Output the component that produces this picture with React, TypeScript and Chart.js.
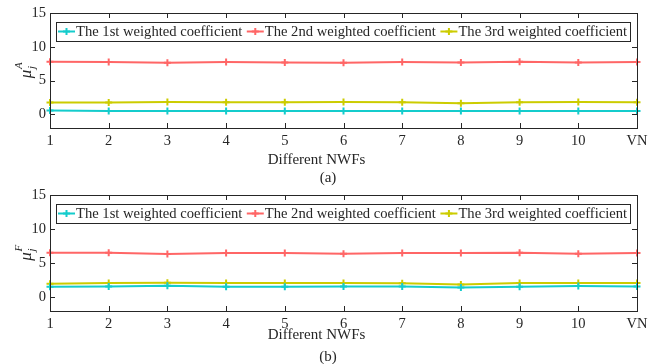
import { useEffect, useRef } from 'react';
import { Chart, registerables } from 'chart.js';

Chart.register(...registerables);

const categories = ['1', '2', '3', '4', '5', '6', '7', '8', '9', '10', 'VN'];
const seriesNames = [
  'The 1st weighted coefficient',
  'The 2nd weighted coefficient',
  'The 3rd weighted coefficient',
];
const yTicks = [0, 5, 10, 15];

// Panel (a): mu_j^A
const firstA = [0.58, 0.53, 0.53, 0.53, 0.53, 0.53, 0.53, 0.53, 0.53, 0.53, 0.53];
const secondA = [7.79, 7.74, 7.64, 7.74, 7.69, 7.64, 7.74, 7.69, 7.8, 7.69, 7.74];
const thirdA = [1.76, 1.76, 1.86, 1.81, 1.81, 1.86, 1.81, 1.67, 1.81, 1.86, 1.81];

// Panel (b): mu_j^F
const firstF = [1.56, 1.6, 1.7, 1.56, 1.56, 1.6, 1.6, 1.45, 1.56, 1.65, 1.6];
const secondF = [6.55, 6.55, 6.35, 6.5, 6.5, 6.4, 6.5, 6.5, 6.55, 6.4, 6.5];
const thirdF = [2.0, 2.1, 2.15, 2.1, 2.1, 2.1, 2.05, 1.9, 2.1, 2.1, 2.1];

const colors = ['rgb(20,204,204)', 'rgb(255,102,102)', 'rgb(204,204,0)'];
const FONT = "'Liberation Serif', 'DejaVu Serif', serif";
const INK = '#262626';

type PanelProps = {
  series: number[][];
  sup: string;
  caption: string;
  xTitleY: number;
  captionY: number;
  bottomGap: number;
  top: number;
  height: number;
};

function drawMarker(ctx: CanvasRenderingContext2D, x: number, y: number, color: string) {
  ctx.save();
  ctx.strokeStyle = color;
  ctx.lineWidth = 2;
  const r = 3.5;
  ctx.beginPath();
  ctx.moveTo(x - r, y);
  ctx.lineTo(x + r, y);
  ctx.moveTo(x, y - r);
  ctx.lineTo(x, y + r);
  ctx.stroke();
  ctx.restore();
}

function Panel({ series, sup, caption, xTitleY, captionY, bottomGap, top: topPos, height }: PanelProps) {
  const ref = useRef<HTMLCanvasElement | null>(null);
  useEffect(() => {
    if (!ref.current) return;
    const framePlugin = {
      id: 'frame',
      afterDatasetsDraw(chart: any) {
        const { ctx, chartArea } = chart;
        const { left, right, top, bottom } = chartArea;
        const xs = chart.scales.x;
        const ys = chart.scales.y;
        ctx.save();
        ctx.strokeStyle = INK;
        ctx.lineWidth = 1;
        ctx.strokeRect(Math.round(left) + 0.5, Math.round(top) + 0.5, Math.round(right - left), Math.round(bottom - top));
        const tl = 5;
        ctx.beginPath();
        for (let i = 0; i < categories.length; i++) {
          const px = Math.round(xs.getPixelForTick(i)) + 0.5;
          ctx.moveTo(px, bottom);
          ctx.lineTo(px, bottom - tl);
          ctx.moveTo(px, top);
          ctx.lineTo(px, top + tl);
        }
        for (const v of yTicks) {
          const py = Math.round(ys.getPixelForValue(v)) + 0.5;
          ctx.moveTo(left, py);
          ctx.lineTo(left + tl, py);
          ctx.moveTo(right, py);
          ctx.lineTo(right - tl, py);
        }
        ctx.stroke();

        // legend inside
        ctx.font = `14.6px ${FONT}`;
        const boxLeft = left + 6;
        const boxTop = top + 9;
        const boxH = 19;
        let cursor = boxLeft + 2;
        const midY = boxTop + boxH / 2;
        const entries: { x: number; w: number }[] = [];
        for (let i = 0; i < seriesNames.length; i++) {
          const w = ctx.measureText(seriesNames[i]).width;
          entries.push({ x: cursor, w });
          cursor += 18 + w + 4.5;
        }
        const boxRight = cursor - 4.5 + 3;
        ctx.fillStyle = '#ffffff';
        ctx.fillRect(boxLeft, boxTop, boxRight - boxLeft, boxH);
        ctx.strokeStyle = INK;
        ctx.strokeRect(Math.round(boxLeft) + 0.5, Math.round(boxTop) + 0.5, Math.round(boxRight - boxLeft), boxH);
        for (let i = 0; i < seriesNames.length; i++) {
          const e = entries[i];
          ctx.strokeStyle = colors[i];
          ctx.lineWidth = 2;
          ctx.beginPath();
          ctx.moveTo(e.x, midY);
          ctx.lineTo(e.x + 17, midY);
          ctx.stroke();
          drawMarker(ctx, e.x + 8.5, midY, colors[i]);
          ctx.fillStyle = INK;
          ctx.textAlign = 'left';
          ctx.textBaseline = 'middle';
          ctx.fillText(seriesNames[i], e.x + 18, midY + 1);
        }

        // x title & caption
        ctx.fillStyle = INK;
        ctx.textAlign = 'center';
        ctx.textBaseline = 'middle';
        ctx.font = `15px ${FONT}`;
        ctx.fillText('Different NWFs', 316.5, xTitleY);
        ctx.fillText(caption, 328, captionY);

        // y title: mu_j^sup rotated
        const cy = (top + bottom) / 2;
        ctx.translate(27, cy);
        ctx.rotate(-Math.PI / 2);
        ctx.textAlign = 'left';
        ctx.textBaseline = 'alphabetic';
        ctx.font = `italic 17px ${FONT}`;
        const muW = ctx.measureText('\u03bc').width;
        ctx.font = `italic 11px ${FONT}`;
        const supW = ctx.measureText(sup).width;
        const total = muW + supW;
        const x0 = -total / 2;
        ctx.font = `italic 17px ${FONT}`;
        ctx.fillText('\u03bc', x0, 4);
        ctx.font = `italic 11px ${FONT}`;
        ctx.fillText('j', x0 + muW + 0.5, 8);
        ctx.fillText(sup, x0 + muW + 0.5, -5);
        ctx.restore();
      },
    };

    const chart = new Chart(ref.current, {
      type: 'line',
      data: {
        labels: categories,
        datasets: series.map((d, i) => ({
          label: seriesNames[i],
          data: d,
          borderColor: colors[i],
          backgroundColor: colors[i],
          borderWidth: 2,
          pointStyle: 'cross',
          pointRadius: 3.5,
          pointBorderWidth: 2,
          pointBorderColor: colors[i],
          tension: 0,
          fill: false,
        })),
      },
      options: {
        animation: false,
        responsive: false,
        events: [],
        layout: { padding: { left: 0, right: 15, top: 13, bottom: 0 } },
        plugins: {
          legend: { display: false },
          tooltip: { enabled: false },
          title: { display: false },
        },
        scales: {
          x: {
            type: 'category',
            offset: false,
            grid: { display: false, drawTicks: false },
            border: { display: false },
            ticks: {
              autoSkip: false,
              maxRotation: 0,
              padding: 4,
              color: INK,
              font: { family: FONT, size: 14.5 },
            },
            afterFit(scale: any) {
              scale.height = bottomGap;
            },
          },
          y: {
            type: 'linear',
            min: -2,
            max: 15,
            grid: { display: false, drawTicks: false },
            border: { display: false },
            ticks: {
              padding: 4,
              color: INK,
              font: { family: FONT, size: 14.5 },
            },
            afterBuildTicks(scale: any) {
              scale.ticks = yTicks.map((v) => ({ value: v }));
            },
            afterFit(scale: any) {
              scale.width = 50;
            },
          },
        },
      },
      plugins: [framePlugin],
    });
    return () => chart.destroy();
  }, []);
  return (
    <canvas
      ref={ref}
      width={652}
      height={height}
      style={{ position: 'absolute', left: 0, top: topPos, display: 'block', width: 652, height }}
    />
  );
}

export default function App() {
  return (
    <div style={{ position: 'absolute', left: 0, top: 0, width: 652, height: 364, background: '#fff' }}>
      <Panel series={[firstA, secondA, thirdA]} sup="A" caption="(a)" xTitleY={160} captionY={178} bottomGap={62} top={0} height={190} />
      <Panel series={[firstF, secondF, thirdF]} sup="F" caption="(b)" xTitleY={153} captionY={175} bottomGap={53} top={182} height={182} />
    </div>
  );
}
